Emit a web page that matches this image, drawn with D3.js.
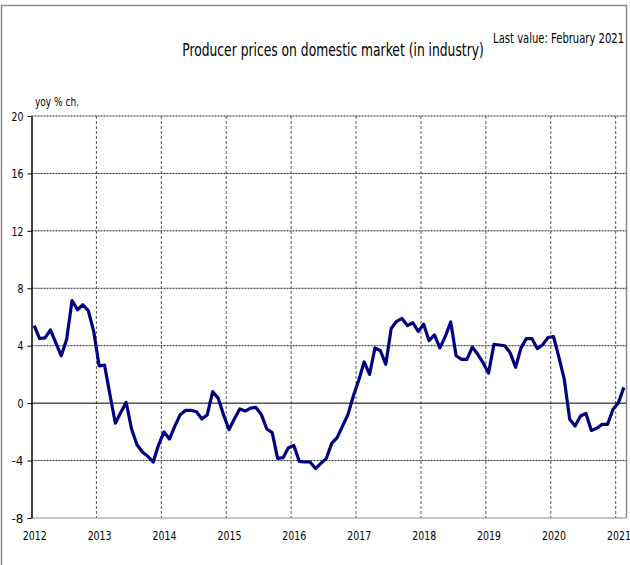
<!DOCTYPE html>
<html>
<head>
<meta charset="utf-8">
<script src="https://cdn.jsdelivr.net/npm/d3@7"></script>
<style>
  body { margin: 0; background: #fff; }
  svg text { font-family: "DejaVu Sans", sans-serif; fill: #000; }
</style>
</head>
<body>
<div id="chart"></div>
<script>
// monthly yoy % change, Jan 2012 .. Feb 2021
var start_year = 2012
var values = [
    5.4, 4.5, 4.55, 5.1, 4.2, 3.3, 4.45, 7.15, 6.5, 6.85, 6.45, 5.0,          // 2012
    2.6, 2.65, 0.6, -1.4, -0.65, 0.05, -1.8, -2.9, -3.4, -3.7, -4.1, -2.9,   // 2013
    -2.0, -2.5, -1.6, -0.8, -0.5, -0.5, -0.6, -1.1, -0.8, 0.8, 0.35, -0.8,   // 2014
    -1.85, -1.1, -0.4, -0.55, -0.35, -0.3, -0.8, -1.8, -2.05, -3.85, -3.8, -3.1, // 2015
    -2.95, -4.05, -4.1, -4.1, -4.55, -4.2, -3.85, -2.8, -2.4, -1.6, -0.8, 0.5,   // 2016
    1.6, 2.87, 2.0, 3.85, 3.65, 2.7, 5.2, 5.7, 5.9, 5.4, 5.6, 5.0,           // 2017
    5.5, 4.35, 4.75, 3.85, 4.65, 5.65, 3.3, 3.05, 3.05, 3.9, 3.4, 2.8,       // 2018
    2.1, 4.1, 4.05, 4.0, 3.5, 2.5, 3.85, 4.5, 4.5, 3.8, 4.07, 4.57,          // 2019
    4.64, 3.2, 1.65, -1.13, -1.6, -0.9, -0.72, -1.9, -1.75, -1.48, -1.48, -0.44, // 2020
    0.02, 1.1                                                                // 2021
]
var year_ticks = [2012, 2013, 2014, 2015, 2016, 2017, 2018, 2019, 2020, 2021]
var y_ticks = [-8, -4, 0, 4, 8, 12, 16, 20]

var title = "Producer prices on domestic market (in industry)"
var last_value = "Last value: February 2021"
var unit_label = "yoy % ch."

var width = 630, height = 565
var plot_left = 31.5, plot_right = 626.5, plot_top = 116, plot_bottom = 518

var svg = d3.select("#chart").append("svg")
    .attr("width", width)
    .attr("height", height)

// month index -> x (points sit at mid-month)
var x = d3.scaleLinear().domain([0, 110]).range([plot_left, plot_right])
var y = d3.scaleLinear().domain([-8, 20]).range([plot_bottom, plot_top])

var data = values.map(function(v, i) { return {m: i + 0.5, v: v} })

// the chart font is a narrow one: squeeze each text horizontally to a target width
function squeeze(sel, target) {
    sel.each(function() {
        var t = d3.select(this)
        var w = typeof target == "function" ? target(this.textContent) : target
        var s = w / this.getComputedTextLength()
        var tx = +t.attr("x") || 0
        t.attr("x", 0)
            .attr("transform", "translate(" + tx + ",0) scale(" + s + ",1)")
    })
}
function per_char(n) { return function(txt) { return txt.length * n } }

// outer frame
svg.append("path")
    .attr("d", "M1.5," + height + "V5.5H" + plot_right + "V" + plot_bottom)
    .attr("fill", "none")
    .attr("stroke", "#8c8c8c")
    .attr("stroke-width", 1.5)

/*-------------------------------- grid ------------------------------*/
svg.append("g").selectAll("line")
    .data(year_ticks.slice(1))
    .enter().append("line")
    .attr("x1", function(d) { return x((d - start_year) * 12) })
    .attr("x2", function(d) { return x((d - start_year) * 12) })
    .attr("y1", plot_top)
    .attr("y2", plot_bottom)
    .attr("stroke", "#555")
    .attr("stroke-width", 1)
    .attr("stroke-dasharray", "3,2")

svg.append("g").selectAll("line")
    .data(y_ticks.filter(function(d) { return d != 0 }))
    .enter().append("line")
    .attr("x1", plot_left)
    .attr("x2", plot_right)
    .attr("y1", function(d) { return y(d) })
    .attr("y2", function(d) { return y(d) })
    .attr("stroke", function(d) { return d == -8 ? "#888" : "#222" })
    .attr("stroke-width", 1)
    .attr("stroke-dasharray", function(d) { return d == -8 ? null : "2,1" })

// zero line
svg.append("line")
    .attr("x1", plot_left).attr("x2", plot_right)
    .attr("y1", y(0)).attr("y2", y(0))
    .attr("stroke", "#000")
    .attr("stroke-width", 1)

/*-------------------------------- axes ------------------------------*/
var y_axis = svg.append("g")
    .attr("transform", "translate(" + plot_left + ",0)")
    .call(d3.axisLeft(y).tickValues(y_ticks)
        .tickFormat(function(d) { return String(d) })   // plain hyphen minus
        .tickSize(4).tickPadding(4).tickSizeOuter(0))
y_axis.select(".domain").attr("stroke", "#000").attr("stroke-width", 1.5)
y_axis.selectAll("text").style("font-size", "13px").call(squeeze, per_char(6))

var x_axis = svg.append("g")
    .attr("transform", "translate(0," + plot_bottom + ")")
    .call(d3.axisBottom(x)
        .tickValues(year_ticks.map(function(d) { return (d - start_year) * 12 + 0.5 }))
        .tickFormat(function(d) { return start_year + Math.floor(d / 12) })
        .tickSize(0).tickPadding(13))
x_axis.select(".domain").remove()
x_axis.selectAll("text").style("font-size", "13px").call(squeeze, per_char(6))

/*-------------------------------- line ------------------------------*/
var line = d3.line()
    .x(function(d) { return x(d.m) })
    .y(function(d) { return y(d.v) })

svg.append("path")
    .datum(data)
    .attr("d", line)
    .attr("fill", "none")
    .attr("stroke", "#000080")
    .attr("stroke-width", 3.2)
    .attr("stroke-linejoin", "round")

/*-------------------------------- texts ------------------------------*/
svg.append("text")
    .attr("x", 333)
    .attr("y", 56)
    .attr("text-anchor", "middle")
    .style("font-size", "17px")
    .text(title)
    .call(squeeze, 302)

svg.append("text")
    .attr("x", 624)
    .attr("y", 43)
    .attr("text-anchor", "end")
    .style("font-size", "13.5px")
    .text(last_value)
    .call(squeeze, 131)

svg.append("text")
    .attr("x", 35)
    .attr("y", 106)
    .style("font-size", "12px")
    .text(unit_label)
    .call(squeeze, 44)
</script>
</body>
</html>
